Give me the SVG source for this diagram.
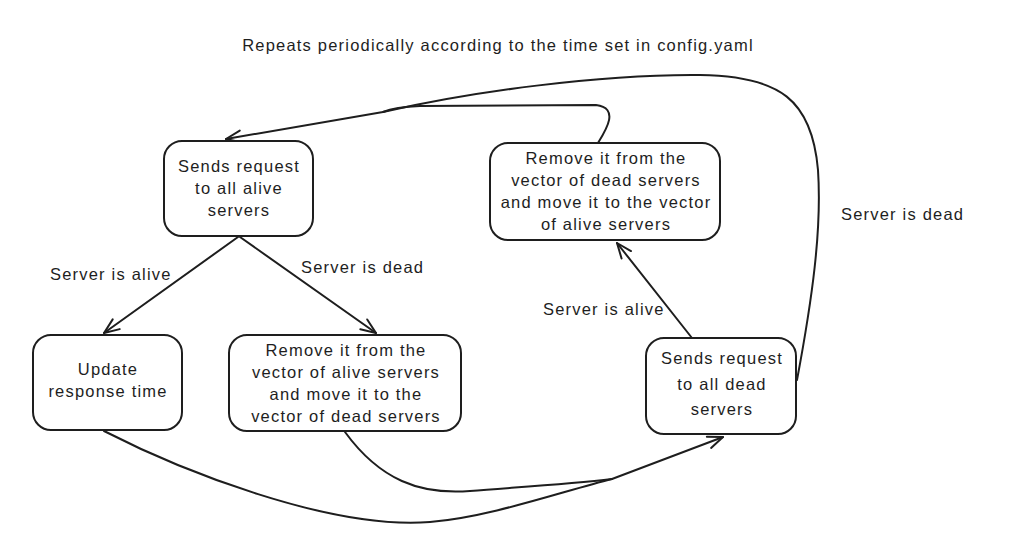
<svg xmlns="http://www.w3.org/2000/svg" width="1014" height="557" viewBox="0 0 1014 557">
<style>
.box{fill:#fff;stroke:#1e1e1e;stroke-width:2}
.t{font-family:"Liberation Sans",Arial,sans-serif;font-size:16.5px;letter-spacing:1.2px;fill:#1e1e1e;text-anchor:middle}
.lbl{font-family:"Liberation Sans",Arial,sans-serif;font-size:16.5px;letter-spacing:1.2px;fill:#1e1e1e}
.c{fill:none;stroke:#1e1e1e;stroke-width:2;stroke-linecap:round;stroke-linejoin:round}
</style>
<defs>
<marker id="arr" markerUnits="userSpaceOnUse" markerWidth="30" markerHeight="30" refX="0" refY="0" orient="auto" overflow="visible">
<path d="M-15,-6 L0,0 L-15,6" fill="none" stroke="#1e1e1e" stroke-width="2" stroke-linecap="round" stroke-linejoin="round"/>
</marker>
</defs>
<rect width="1014" height="557" fill="#fff"/>
<text class="t" x="498" y="51">Repeats periodically according to the time set in config.yaml</text>
<g id="connectors">
<path class="c" d="M238,237 L104,333" marker-end="url(#arr)"/>
<path class="c" d="M240,237 L376,333" marker-end="url(#arr)"/>
<path class="c" d="M692,338 L617,243" marker-end="url(#arr)"/>
<path class="c" d="M598,143 C606,130 620,108 596,105 L420,106 Q395,107 383,112 L226,139" marker-end="url(#arr)"/>
<path class="c" d="M797,380 C812,300 822,230 818,170 C812,100 780,76 700,75 C600,74 470,92 383,112"/>
<path class="c" d="M104,431 C180,470 330,530 430,522 C490,517 560,492 612,479 L723,437" marker-end="url(#arr)"/>
<path class="c" d="M345,432 C380,480 420,495 470,491 C520,487 570,484 612,479"/>
<text class="lbl" x="50" y="280">Server is alive</text>
<text class="lbl" x="301" y="273">Server is dead</text>
<text class="lbl" x="543" y="315">Server is alive</text>
<text class="lbl" x="841" y="220">Server is dead</text>
</g>
<g id="node-a">
<rect class="box" x="164" y="141" width="149" height="95" rx="18"/>
<text class="t" x="239" y="172">Sends request</text>
<text class="t" x="239" y="194">to all alive</text>
<text class="t" x="239" y="216">servers</text>
</g>
<g id="node-b">
<rect class="box" x="33" y="335" width="149" height="95" rx="18"/>
<text class="t" x="108" y="375">Update</text>
<text class="t" x="108" y="397">response time</text>
</g>
<g id="node-c">
<rect class="box" x="229" y="335" width="232" height="96" rx="18"/>
<text class="t" x="346" y="356">Remove it from the</text>
<text class="t" x="346" y="378">vector of alive servers</text>
<text class="t" x="346" y="400">and move it to the</text>
<text class="t" x="346" y="422">vector of dead servers</text>
</g>
<g id="node-d">
<rect class="box" x="490" y="143" width="230" height="97" rx="18"/>
<text class="t" x="606" y="164">Remove it from the</text>
<text class="t" x="606" y="186">vector of dead servers</text>
<text class="t" x="606" y="208">and move it to the vector</text>
<text class="t" x="606" y="230">of alive servers</text>
</g>
<g id="node-e">
<rect class="box" x="646" y="338" width="150" height="96" rx="18"/>
<text class="t" x="722" y="364">Sends request</text>
<text class="t" x="722" y="390">to all dead</text>
<text class="t" x="722" y="415">servers</text>
</g>
</svg>
